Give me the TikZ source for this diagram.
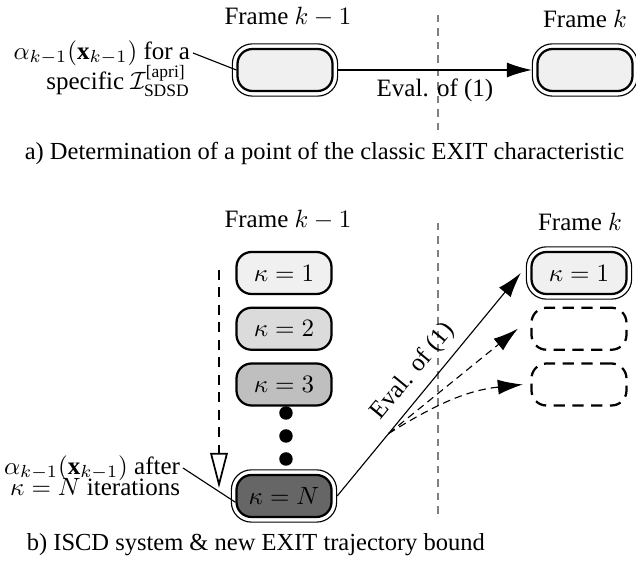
\documentclass[tikz,border=0pt]{standalone}
\usepackage{fontspec}
\setmainfont{Liberation Serif}
\usetikzlibrary{arrows.meta,positioning,fit}

\begin{document}
\begin{tikzpicture}[x=0.4pt,y=-0.4pt,>={Latex[length=10pt,width=6pt]},
                    state/.style={rectangle,rounded corners=6pt,draw,line width=0.9pt,
                                  minimum width=38pt,minimum height=16.8pt,inner sep=0pt},
                    ghost/.style={state,dash pattern=on 4.5pt off 3pt},
                    frame/.style={rectangle,rounded corners=8pt,draw,line width=0.45pt,inner sep=1.6pt},
                    sep line/.style={gray,line width=0.45pt,dash pattern=on 3pt off 2.4pt},
                    dot/.style={circle,fill,inner sep=0pt,minimum size=5.4pt},
                    caption/.style={anchor=west,font=\fontsize{9.8pt}{11.5pt}\selectfont}]
  \useasboundingbox (0,0) rectangle (636,565);
  % a) classic EXIT characteristic
  \node (fa) at (288,17) {Frame $k-1$};
  \node (fb) at (585,19) {Frame $k$};
  \node[state,fill=black!6] (a1) at (285,70) {};
  \node[frame,fit=(a1)] (a1f) {};
  \node[state,fill=black!6] (a2) at (585,70) {};
  \node[frame,fit=(a2)] (a2f) {};
  \node[anchor=east,inner sep=1pt] (la1) at (193,53) {$\alpha_{k-1}(\mathbf{x}_{k-1})$ for a};
  \node[anchor=east,inner sep=1pt] (la2) at (193,81) {specific $\mathcal{I}_{\mathrm{SDSD}}^{\mbox{\scriptsize[apri]}}$};
  \draw[sep line] (438,15) -- (438,130);
  \draw[line width=0.45pt,->] (a1f) -- node[below] {Eval. of (1)} (a2f.west);
  \draw[line width=0.45pt] (la1.east) -- (a1.west);
  \node[caption] (capa) at (16,153) {a) Determination of a point of the classic EXIT characteristic};

  % b) ISCD system
  \node (fc) at (288,220) {Frame $k-1$};
  \node (fd) at (580,222) {Frame $k$};
  \node[state,fill=black!6] (k1) at (284,273) {$\kappa=1$};
  \node[state,fill=black!14] (k2) [below=4.6pt of k1] {$\kappa=2$};
  \node[state,fill=black!25] (k3) [below=4.6pt of k2] {$\kappa=3$};
  \node[dot] (d1) at (286,413) {};
  \node[dot] (d2) at (286,436) {};
  \node[dot] (d3) at (286,459) {};
  \node[state,fill=black!60] (kN) at (284,496) {$\kappa=N$};
  \node[frame,fit=(kN)] (kNf) {};
  \node[state,fill=black!6] (n1) at (579,273) {$\kappa=1$};
  \node[frame,fit=(n1)] (n1f) {};
  \node[ghost] (n2) [below=4.6pt of n1] {};
  \node[ghost] (n3) [below=4.6pt of n2] {};
  \coordinate (itop) at (219,270);
  \coordinate (ibot) at (219,488);
  \draw[line width=0.7pt,dash pattern=on 4pt off 3pt,-{Triangle[open,length=14pt,width=7pt]}] (itop) -- (ibot);
  \node[anchor=east,inner sep=1pt] (lb1) at (183,468) {$\alpha_{k-1}(\mathbf{x}_{k-1})$ after};
  \node[anchor=east,inner sep=1pt] (lb2) at (183,487) {$\kappa=N$ iterations};
  \draw[line width=0.45pt] (lb1.east) -- ([yshift=-2.5pt]kN.west);
  \draw[sep line] (438,223) -- (438,515);
  \draw[line width=0.45pt,->] (kNf.east) -- coordinate[pos=0.28] (split)
    node[pos=0.5,sloped,above] {Eval. of (1)} ([xshift=-2pt]n1f.west);
  \draw[line width=0.45pt,dash pattern=on 3pt off 2pt,->] (split) -- ([xshift=-5pt]n2.west);
  \draw[line width=0.45pt,dash pattern=on 3pt off 2pt,->] (split) to[out=32,in=186] ([xshift=-3pt]n3.west);
  \node[caption] (capb) at (18,545) {b) ISCD system \& new EXIT trajectory bound};
\end{tikzpicture}
\end{document}
